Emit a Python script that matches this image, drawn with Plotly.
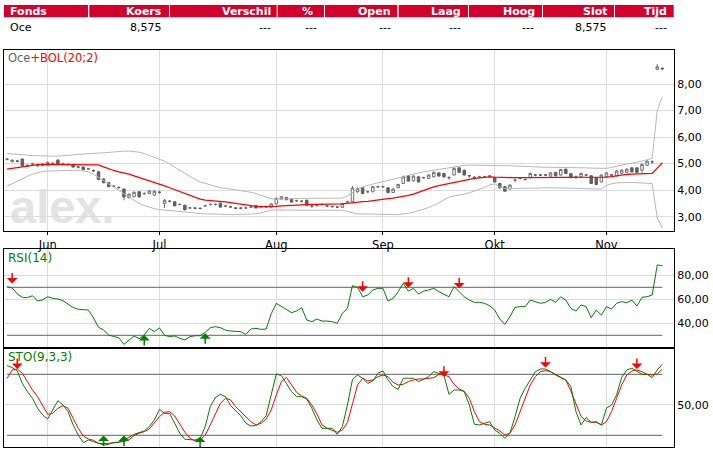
import plotly.graph_objects as go
import pandas as pd

W, H = 713, 455

# trading days shown (May 20 - Nov 17 2009)
dates = [d.strftime("%Y-%m-%d") for d in pd.bdate_range("2009-05-20", "2009-11-17")]

month_ticks = ["2009-06-01", "2009-07-01", "2009-08-03", "2009-09-01", "2009-10-01", "2009-11-02"]
month_labels = ["Jun", "Jul", "Aug", "Sep", "Okt", "Nov"]

open_ = [5.16, 5.07, 5.10, 5.17, 4.92, 4.98, 4.94, 4.93, 4.94, 5.00,
         5.13, 4.99, 4.97, 4.97, 4.87, 4.87, 4.80, 4.74, 4.69, 4.42,
         4.28, 4.15, 4.10, 4.04, 3.72, 3.75, 3.94, 3.87, 3.87, 3.81,
         3.92, 3.50, 3.58, 3.56, 3.46, 3.43, 3.33, 3.32, 3.31, 3.41,
         3.46, 3.46, 3.51, 3.40, 3.37, 3.32, 3.32, 3.33, 3.36, 3.42,
         3.37, 3.37, 3.36, 3.48, 3.66, 3.72, 3.66, 3.60, 3.58, 3.62,
         3.40, 3.42, 3.46, 3.40, 3.38, 3.36, 3.35, 3.56, 3.56, 3.94,
         4.09, 3.94, 3.94, 4.13, 4.13, 4.09, 3.91, 4.09, 4.25, 4.54,
         4.35, 4.50, 4.47, 4.44, 4.50, 4.65, 4.63, 4.47, 4.57, 4.84,
         4.75, 4.55, 4.48, 4.50, 4.50, 4.53, 4.47, 4.25, 4.13, 4.04,
         4.38, 4.44, 4.40, 4.47, 4.57, 4.57, 4.57, 4.53, 4.67, 4.57,
         4.79, 4.62, 4.50, 4.50, 4.57, 4.54, 4.47, 4.31, 4.50, 4.57,
         4.54, 4.63, 4.67, 4.84, 4.84, 4.75, 4.94, 5.07, 8.55, 8.60]
high = [5.21, 5.15, 5.14, 5.19, 4.98, 5.03, 4.99, 5.01, 5.08, 5.05,
        5.17, 5.03, 5.00, 4.99, 4.91, 4.89, 4.84, 4.78, 4.72, 4.45,
        4.31, 4.19, 4.14, 4.06, 3.88, 3.95, 3.96, 3.92, 4.00, 3.99,
        3.97, 3.66, 3.62, 3.58, 3.50, 3.45, 3.37, 3.36, 3.35, 3.45,
        3.50, 3.50, 3.53, 3.44, 3.41, 3.36, 3.36, 3.37, 3.40, 3.44,
        3.41, 3.41, 3.50, 3.72, 3.78, 3.75, 3.68, 3.64, 3.62, 3.64,
        3.44, 3.46, 3.50, 3.44, 3.42, 3.40, 3.52, 3.60, 4.16, 4.10,
        4.12, 3.98, 4.16, 4.17, 4.17, 4.11, 4.06, 4.24, 4.55, 4.57,
        4.56, 4.52, 4.51, 4.60, 4.70, 4.67, 4.65, 4.52, 4.88, 4.87,
        4.77, 4.55, 4.53, 4.54, 4.54, 4.57, 4.49, 4.27, 4.15, 4.22,
        4.43, 4.48, 4.44, 4.66, 4.61, 4.61, 4.61, 4.68, 4.69, 4.80,
        4.81, 4.64, 4.55, 4.66, 4.61, 4.56, 4.49, 4.60, 4.68, 4.61,
        4.75, 4.78, 4.82, 4.86, 4.86, 5.00, 5.14, 5.12, 8.75, 8.60]
low = [5.12, 5.05, 5.05, 4.90, 4.87, 4.94, 4.88, 4.90, 4.92, 4.95,
       4.96, 4.95, 4.93, 4.86, 4.82, 4.76, 4.76, 4.68, 4.38, 4.26,
       4.11, 4.10, 4.05, 3.62, 3.68, 3.73, 3.70, 3.82, 3.85, 3.79,
       3.87, 3.33, 3.54, 3.39, 3.42, 3.24, 3.29, 3.28, 3.27, 3.37,
       3.42, 3.42, 3.34, 3.36, 3.33, 3.28, 3.28, 3.29, 3.32, 3.31,
       3.33, 3.33, 3.34, 3.46, 3.64, 3.62, 3.53, 3.56, 3.54, 3.41,
       3.34, 3.38, 3.42, 3.36, 3.34, 3.32, 3.33, 3.52, 3.54, 3.90,
       3.85, 3.88, 3.92, 4.08, 4.08, 3.88, 3.89, 4.07, 4.23, 4.32,
       4.33, 4.29, 4.43, 4.42, 4.48, 4.51, 4.48, 4.40, 4.55, 4.65,
       4.55, 4.47, 4.40, 4.45, 4.46, 4.48, 4.29, 4.05, 3.94, 4.02,
       4.30, 4.40, 4.36, 4.45, 4.53, 4.53, 4.53, 4.51, 4.52, 4.55,
       4.61, 4.45, 4.42, 4.48, 4.53, 4.23, 4.19, 4.29, 4.48, 4.50,
       4.52, 4.61, 4.65, 4.67, 4.65, 4.65, 4.92, 5.00, 8.53, 8.52]
close = [5.17, 5.13, 5.09, 4.92, 4.93, 4.99, 4.94, 4.98, 5.04, 5.01,
         4.97, 4.99, 4.97, 4.87, 4.87, 4.77, 4.80, 4.73, 4.40, 4.28,
         4.13, 4.15, 4.10, 3.75, 3.85, 3.92, 3.75, 3.87, 3.97, 3.96,
         3.92, 3.62, 3.58, 3.41, 3.46, 3.26, 3.33, 3.32, 3.31, 3.41,
         3.46, 3.46, 3.36, 3.40, 3.37, 3.32, 3.32, 3.33, 3.36, 3.33,
         3.37, 3.37, 3.48, 3.69, 3.75, 3.64, 3.55, 3.60, 3.58, 3.43,
         3.40, 3.42, 3.46, 3.40, 3.38, 3.36, 3.50, 3.56, 4.08, 4.06,
         3.87, 3.94, 4.13, 4.13, 4.13, 3.91, 4.04, 4.21, 4.50, 4.34,
         4.53, 4.31, 4.47, 4.57, 4.67, 4.53, 4.50, 4.47, 4.82, 4.67,
         4.57, 4.54, 4.48, 4.50, 4.50, 4.53, 4.31, 4.09, 3.96, 4.19,
         4.38, 4.44, 4.40, 4.63, 4.57, 4.57, 4.57, 4.65, 4.54, 4.78,
         4.63, 4.47, 4.50, 4.63, 4.57, 4.25, 4.21, 4.57, 4.65, 4.57,
         4.72, 4.75, 4.79, 4.69, 4.67, 4.97, 5.09, 5.07, 8.65, 8.575]

bol_mid = [4.79, 4.82, 4.86, 4.88, 4.91, 4.94, 4.96, 4.97, 4.97, 4.97,
           4.97, 4.97, 4.97, 4.97, 4.97, 4.97, 4.97, 4.97, 4.95, 4.88,
           4.80, 4.74, 4.69, 4.65, 4.60, 4.54, 4.48, 4.42, 4.36, 4.29,
           4.23, 4.16, 4.09, 4.02, 3.94, 3.87, 3.80, 3.72, 3.66, 3.62,
           3.61, 3.60, 3.59, 3.56, 3.53, 3.50, 3.46, 3.43, 3.41, 3.39,
           3.38, 3.38, 3.38, 3.39, 3.41, 3.42, 3.44, 3.45, 3.46, 3.46,
           3.46, 3.46, 3.46, 3.47, 3.47, 3.48, 3.48, 3.50, 3.53, 3.55,
           3.57, 3.58, 3.61, 3.64, 3.66, 3.68, 3.70, 3.73, 3.77, 3.80,
           3.85, 3.92, 3.99, 4.06, 4.12, 4.17, 4.21, 4.25, 4.28, 4.33,
           4.36, 4.40, 4.44, 4.46, 4.48, 4.50, 4.49, 4.48, 4.47, 4.47,
           4.47, 4.47, 4.47, 4.47, 4.47, 4.48, 4.48, 4.47, 4.47, 4.47,
           4.47, 4.47, 4.47, 4.47, 4.47, 4.47, 4.47, 4.47, 4.49, 4.51,
           4.54, 4.57, 4.59, 4.60, 4.61, 4.62, 4.63, 4.63, 4.83, 5.03]
bol_up = [5.38, 5.37, 5.36, 5.34, 5.32, 5.30, 5.29, 5.28, 5.28, 5.28,
          5.28, 5.29, 5.31, 5.33, 5.35, 5.36, 5.37, 5.38, 5.38, 5.40,
          5.42, 5.44, 5.46, 5.47, 5.47, 5.45, 5.43, 5.38, 5.31, 5.24,
          5.19, 5.09, 4.98, 4.86, 4.75, 4.64, 4.52, 4.40, 4.31, 4.25,
          4.19, 4.13, 4.09, 4.07, 4.04, 4.02, 4.00, 3.96, 3.92, 3.87,
          3.80, 3.73, 3.67, 3.66, 3.67, 3.68, 3.68, 3.69, 3.69, 3.69,
          3.69, 3.69, 3.69, 3.69, 3.69, 3.69, 3.70, 3.78, 3.93, 4.05,
          4.12, 4.18, 4.23, 4.28, 4.32, 4.36, 4.40, 4.44, 4.50, 4.56,
          4.61, 4.65, 4.69, 4.72, 4.75, 4.79, 4.83, 4.86, 4.88, 4.91,
          4.93, 4.94, 4.94, 4.94, 4.94, 4.94, 4.94, 4.93, 4.93, 4.92,
          4.91, 4.90, 4.88, 4.87, 4.86, 4.86, 4.86, 4.86, 4.86, 4.86,
          4.86, 4.85, 4.85, 4.84, 4.84, 4.83, 4.82, 4.82, 4.82, 4.86,
          4.90, 4.94, 4.98, 5.01, 5.04, 5.08, 5.14, 5.20, 7.00, 7.52]
bol_low = [4.15, 4.25, 4.34, 4.43, 4.52, 4.60, 4.66, 4.70, 4.72, 4.73,
           4.74, 4.75, 4.75, 4.75, 4.74, 4.73, 4.70, 4.60, 4.48, 4.36,
           4.24, 4.12, 4.00, 3.88, 3.75, 3.62, 3.50, 3.42, 3.36, 3.30,
           3.27, 3.25, 3.23, 3.20, 3.18, 3.16, 3.15, 3.13, 3.12, 3.11,
           3.10, 3.09, 3.08, 3.08, 3.08, 3.08, 3.08, 3.09, 3.10, 3.11,
           3.14, 3.20, 3.25, 3.25, 3.25, 3.25, 3.25, 3.25, 3.25, 3.25,
           3.25, 3.25, 3.25, 3.25, 3.25, 3.25, 3.24, 3.20, 3.14, 3.10,
           3.10, 3.11, 3.10, 3.09, 3.08, 3.08, 3.08, 3.08, 3.10, 3.13,
           3.17, 3.22, 3.28, 3.35, 3.42, 3.52, 3.64, 3.74, 3.78, 3.81,
           3.85, 3.90, 3.96, 4.04, 4.10, 4.20, 4.24, 4.12, 4.06, 4.06,
           4.06, 4.06, 4.06, 4.06, 4.07, 4.08, 4.09, 4.09, 4.09, 4.08,
           4.08, 4.07, 4.07, 4.06, 4.06, 4.05, 4.05, 4.04, 4.18, 4.24,
           4.27, 4.29, 4.29, 4.29, 4.28, 4.28, 4.28, 4.25, 2.95, 2.58]

rsi = [70.6, 69.5, 64.5, 61.7, 61.5, 63.0, 58.6, 59.6, 62.2, 60.8,
       60.3, 58.9, 56.0, 53.2, 51.7, 51.7, 51.1, 44.5, 36.8, 34.4,
       30.3, 29.0, 28.0, 22.5, 25.8, 29.5, 27.2, 30.3, 35.8, 33.1,
       36.2, 30.0, 29.0, 29.5, 27.5, 26.2, 28.9, 29.7, 29.7, 32.5,
       36.4, 37.2, 36.4, 34.4, 33.6, 33.6, 33.1, 30.8, 35.3, 35.8,
       35.0, 35.3, 48.0, 56.7, 53.9, 51.1, 48.9, 50.3, 53.0, 42.8,
       41.4, 43.6, 41.9, 41.9, 41.4, 40.0, 48.3, 52.5, 71.4, 70.0,
       62.2, 63.6, 67.8, 69.2, 69.2, 58.6, 60.8, 66.4, 73.3, 66.9,
       69.2, 64.4, 66.9, 67.8, 69.2, 66.4, 64.2, 62.2, 70.6, 66.4,
       62.2, 59.4, 57.5, 57.5, 56.7, 54.7, 51.1, 43.6, 39.2, 45.6,
       53.3, 53.9, 53.9, 59.4, 58.1, 56.7, 57.5, 60.0, 57.5, 62.2,
       59.4, 52.5, 50.3, 55.3, 53.9, 44.7, 51.1, 46.9, 53.9, 51.9,
       56.7, 58.1, 57.2, 59.4, 54.4, 61.7, 62.2, 63.6, 88.6, 88.1]

sto_k = [88.5, 86.6, 83.3, 71.1, 63.0, 56.4, 46.6, 40.0, 36.1, 44.9,
         54.1, 49.8, 43.3, 30.2, 20.3, 12.8, 15.4, 13.8, 12.1, 10.5,
         11.1, 13.1, 13.1, 15.4, 18.0, 21.0, 23.0, 24.3, 28.5, 35.1,
         45.6, 41.6, 41.6, 31.8, 22.0, 16.1, 15.4, 15.4, 17.0, 28.5,
         48.2, 57.0, 60.3, 58.0, 49.2, 44.3, 39.3, 31.8, 29.2, 29.5,
         33.4, 39.3, 59.7, 80.3, 78.7, 71.1, 63.0, 58.0, 58.0, 55.7,
         46.6, 35.1, 26.9, 26.9, 26.9, 21.0, 28.5, 49.8, 75.0, 79.3,
         76.1, 71.1, 73.4, 81.0, 83.3, 74.4, 67.9, 65.2, 76.1, 76.1,
         76.1, 72.8, 75.4, 77.7, 82.6, 81.0, 79.3, 60.3, 64.6, 64.6,
         63.0, 49.8, 30.8, 30.2, 31.8, 33.4, 25.2, 22.0, 17.0, 22.0,
         38.4, 56.4, 66.2, 74.4, 82.6, 85.2, 85.2, 82.6, 80.0, 77.7,
         74.4, 67.9, 43.3, 30.2, 37.4, 32.8, 33.4, 30.2, 46.6, 49.8,
         59.7, 77.0, 84.3, 85.9, 82.6, 80.0, 80.0, 76.7, 84.3, 89.8]
sto_d = [76.1, 84.3, 85.2, 81.0, 72.8, 64.6, 58.0, 48.9, 40.7, 41.6,
         46.6, 49.2, 46.6, 36.7, 26.9, 19.3, 16.4, 15.1, 12.1, 11.8,
         11.8, 12.5, 13.4, 13.8, 15.7, 19.7, 22.0, 23.6, 26.2, 31.8,
         38.4, 42.6, 43.3, 39.0, 30.8, 23.0, 17.0, 14.4, 15.1, 20.3,
         30.2, 41.6, 51.5, 56.4, 54.8, 48.2, 43.3, 38.4, 33.4, 30.2,
         31.8, 36.1, 44.9, 59.7, 72.8, 77.0, 70.2, 62.3, 58.7, 56.4,
         49.8, 41.0, 30.2, 26.9, 24.9, 23.0, 25.2, 32.5, 51.0, 69.5,
         76.1, 73.4, 74.4, 77.7, 79.3, 77.7, 72.1, 69.5, 70.2, 72.8,
         74.4, 75.4, 75.4, 76.1, 76.7, 80.0, 79.3, 77.7, 70.2, 65.6,
         63.3, 56.4, 43.3, 33.4, 30.8, 30.2, 27.5, 24.3, 20.3, 22.0,
         30.2, 43.3, 56.4, 69.5, 77.7, 82.6, 83.6, 82.6, 79.3, 76.7,
         74.4, 63.6, 50.5, 38.4, 34.1, 32.8, 32.8, 30.2, 33.4, 43.3,
         56.4, 69.5, 79.3, 83.3, 84.3, 82.6, 80.0, 79.3, 80.3, 85.2]

# signal arrows: day index and where the arrow tip sits
rsi_sell_idx = [1, 70, 79, 89]
rsi_sell_tip = [73.3, 66.4, 69.7, 69.2]
rsi_buy_idx = [27, 39]
rsi_buy_tip = [30.3, 31.7]
sto_sell_idx = [2, 86, 106, 124]
sto_sell_tip = [85.2, 77.7, 86.6, 85.2]
sto_buy_idx = [19, 23, 38]
sto_buy_tip = [19.7, 19.7, 18.7]

# quote table
table_head = ["Fonds", "Koers", "Verschil", "%", "Open", "Laag", "Hoog", "Slot", "Tijd"]
table_row = ["Oce", "8,575", "---", "---", "---", "---", "---", "8,575", "---"]

RED = "#d4002b"
GREEN = "#008000"
FONT = "Verdana, DejaVu Sans, sans-serif"


def px_x(p):
    return p / W


def px_y(p):
    return 1 - p / H


fig = go.Figure()

# main panel: bollinger + candles
fig.add_trace(go.Scatter(x=dates, y=bol_up, mode="lines", line=dict(color="#b8b8b8", width=1), xaxis="x", yaxis="y"))
fig.add_trace(go.Scatter(x=dates, y=bol_low, mode="lines", line=dict(color="#b8b8b8", width=1), xaxis="x", yaxis="y"))
fig.add_trace(go.Scatter(x=dates, y=bol_mid, mode="lines", line=dict(color="#ff0000", width=1.3), xaxis="x", yaxis="y"))
fig.add_trace(go.Candlestick(
    x=dates, open=open_, high=high, low=low, close=close,
    increasing=dict(line=dict(color="#707070", width=1), fillcolor="#ffffff"),
    decreasing=dict(line=dict(color="#606060", width=1), fillcolor="#606060"),
    whiskerwidth=0, xaxis="x", yaxis="y"))

# rsi panel
fig.add_trace(go.Scatter(x=dates, y=rsi, mode="lines", line=dict(color=GREEN, width=1), xaxis="x2", yaxis="y2"))

# stochastics panel
fig.add_trace(go.Scatter(x=dates, y=sto_d, mode="lines", line=dict(color="#ff0000", width=1), xaxis="x3", yaxis="y3"))
fig.add_trace(go.Scatter(x=dates, y=sto_k, mode="lines", line=dict(color=GREEN, width=1), xaxis="x3", yaxis="y3"))

xdom = [px_x(4), px_x(674)]
xrange_ = ["2009-05-19 09:22", "2009-11-19 07:12"]
breaks = [dict(bounds=["sat", "mon"])]
axis_common = dict(showline=True, linecolor="black", linewidth=1, mirror=True, zeroline=False,
                   gridcolor="#dcdcdc", gridwidth=1)

xbase = dict(domain=xdom, range=xrange_, rangebreaks=breaks, tickvals=month_ticks, ticktext=month_labels,
             showgrid=True, **axis_common)

fig.update_layout(
    width=W, height=H,
    margin=dict(l=0, r=0, t=0, b=0),
    paper_bgcolor="white", plot_bgcolor="rgba(0,0,0,0)",
    showlegend=False, hovermode=False,
    separators=",.",
    font=dict(family=FONT, size=11, color="black"),
    xaxis=dict(anchor="y", ticks="outside", ticklen=3, tickcolor="black",
               tickfont=dict(size=11.5), rangeslider=dict(visible=False), **xbase),
    xaxis2=dict(anchor="y2", matches="x", showticklabels=False, ticks="", **xbase),
    xaxis3=dict(anchor="y3", matches="x", showticklabels=False, ticks="", **xbase),
    yaxis=dict(domain=[px_y(231), px_y(49.5)], range=[2.46, 9.30], side="right",
               tickvals=[3, 4, 5, 6, 7, 8], tickformat=".2f", ticks="", anchor="x", **axis_common),
    yaxis2=dict(domain=[px_y(347), px_y(249.3)], range=[20.3, 101.7], side="right",
                tickvals=[40, 60, 80], tickformat=".2f", ticks="", anchor="x2", **axis_common),
    yaxis3=dict(domain=[px_y(447), px_y(349.3)], range=[8.5, 104.6], side="right",
                tickvals=[50], tickformat=".2f", ticks="", anchor="x3", **axis_common),
)

shapes = []
# overbought / oversold lines
for yref, xref, lvl in [("y2", "x2", 70), ("y2", "x2", 30), ("y3", "x3", 80), ("y3", "x3", 20)]:
    shapes.append(dict(type="line", xref=xref, yref=yref, x0=dates[0], x1=dates[-1], y0=lvl, y1=lvl,
                       line=dict(color="#808080", width=1.2), layer="between"))

# watermark
shapes.append(dict(type="rect", xref="x domain", yref="y domain", x0=0.009, x1=0.165, y0=0.03, y1=0.28,
                   line=dict(width=0), fillcolor="rgba(0,0,0,0)", layer="below",
                   label=dict(text="alex.", textposition="middle center",
                              font=dict(family="Liberation Sans, Arial", size=47, color="#e3e3e3",
                                        weight="bold"))))

# header cells
cell_left = [4, 89.3, 170, 277.7, 325, 398.7, 469, 543, 615]
cell_right = [88, 169, 276.7, 324, 397.3, 468, 542, 614, 673.7]
for l, r in zip(cell_left, cell_right):
    shapes.append(dict(type="rect", xref="paper", yref="paper", x0=px_x(l), x1=px_x(r),
                       y0=px_y(17.3), y1=px_y(5), fillcolor=RED, line=dict(width=0)))
fig.update_layout(shapes=shapes)

annotations = []
head_end = [None, 164.3, 273, 315, 393, 463, 537, 609.7, 669]
row_end = [None, 164.3, 272.7, 319.3, 393, 463, 536.3, 609, 669]
for k, (h, v) in enumerate(zip(table_head, table_row)):
    if k == 0:
        ax_h, ax_r, anchor = 8, 8, "left"
    else:
        ax_h, ax_r, anchor = head_end[k], row_end[k], "right"
    annotations.append(dict(xref="paper", yref="paper", x=px_x(ax_h), y=px_y(11.3), text="<b>%s</b>" % h,
                            showarrow=False, xanchor=anchor, yanchor="middle",
                            font=dict(family=FONT, size=11, color="white")))
    annotations.append(dict(xref="paper", yref="paper", x=px_x(ax_r), y=px_y(27), text=v,
                            showarrow=False, xanchor=anchor, yanchor="middle",
                            font=dict(family=FONT, size=11, color="black")))

# panel titles
annotations.append(dict(xref="paper", yref="paper", x=px_x(6), y=px_y(57.5),
                        text="<span style='color:#666666'>Oce</span><span style='color:#ff0000'>+BOL(20;2)</span>",
                        showarrow=False, xanchor="left", yanchor="middle", font=dict(family=FONT, size=11.5)))
annotations.append(dict(xref="paper", yref="paper", x=px_x(6), y=px_y(257.5), text="RSI(14)",
                        showarrow=False, xanchor="left", yanchor="middle", font=dict(family=FONT, size=12, color=GREEN)))
annotations.append(dict(xref="paper", yref="paper", x=px_x(6), y=px_y(357), text="STO(9,3,3)",
                        showarrow=False, xanchor="left", yanchor="middle", font=dict(family=FONT, size=12, color=GREEN)))


def add_arrows(idx, tips, xref, yref, color, ay):
    for i, t in zip(idx, tips):
        annotations.append(dict(xref=xref, yref=yref, x=dates[i], y=t, text="", showarrow=True,
                                ax=0, ay=ay, arrowhead=1, arrowsize=1.2, arrowwidth=1.5,
                                arrowcolor=color, standoff=0))


add_arrows(rsi_sell_idx, rsi_sell_tip, "x2", "y2", "#ff0000", -12)
add_arrows(rsi_buy_idx, rsi_buy_tip, "x2", "y2", GREEN, 12)
add_arrows(sto_sell_idx, sto_sell_tip, "x3", "y3", "#ff0000", -12)
add_arrows(sto_buy_idx, sto_buy_tip, "x3", "y3", GREEN, 12)

fig.update_layout(annotations=annotations)

# the page's default body margin would push the fixed-size figure off the window
fig.write_html("out.html", config={"displayModeBar": False},
               post_script="document.body.style.margin='0px';")
